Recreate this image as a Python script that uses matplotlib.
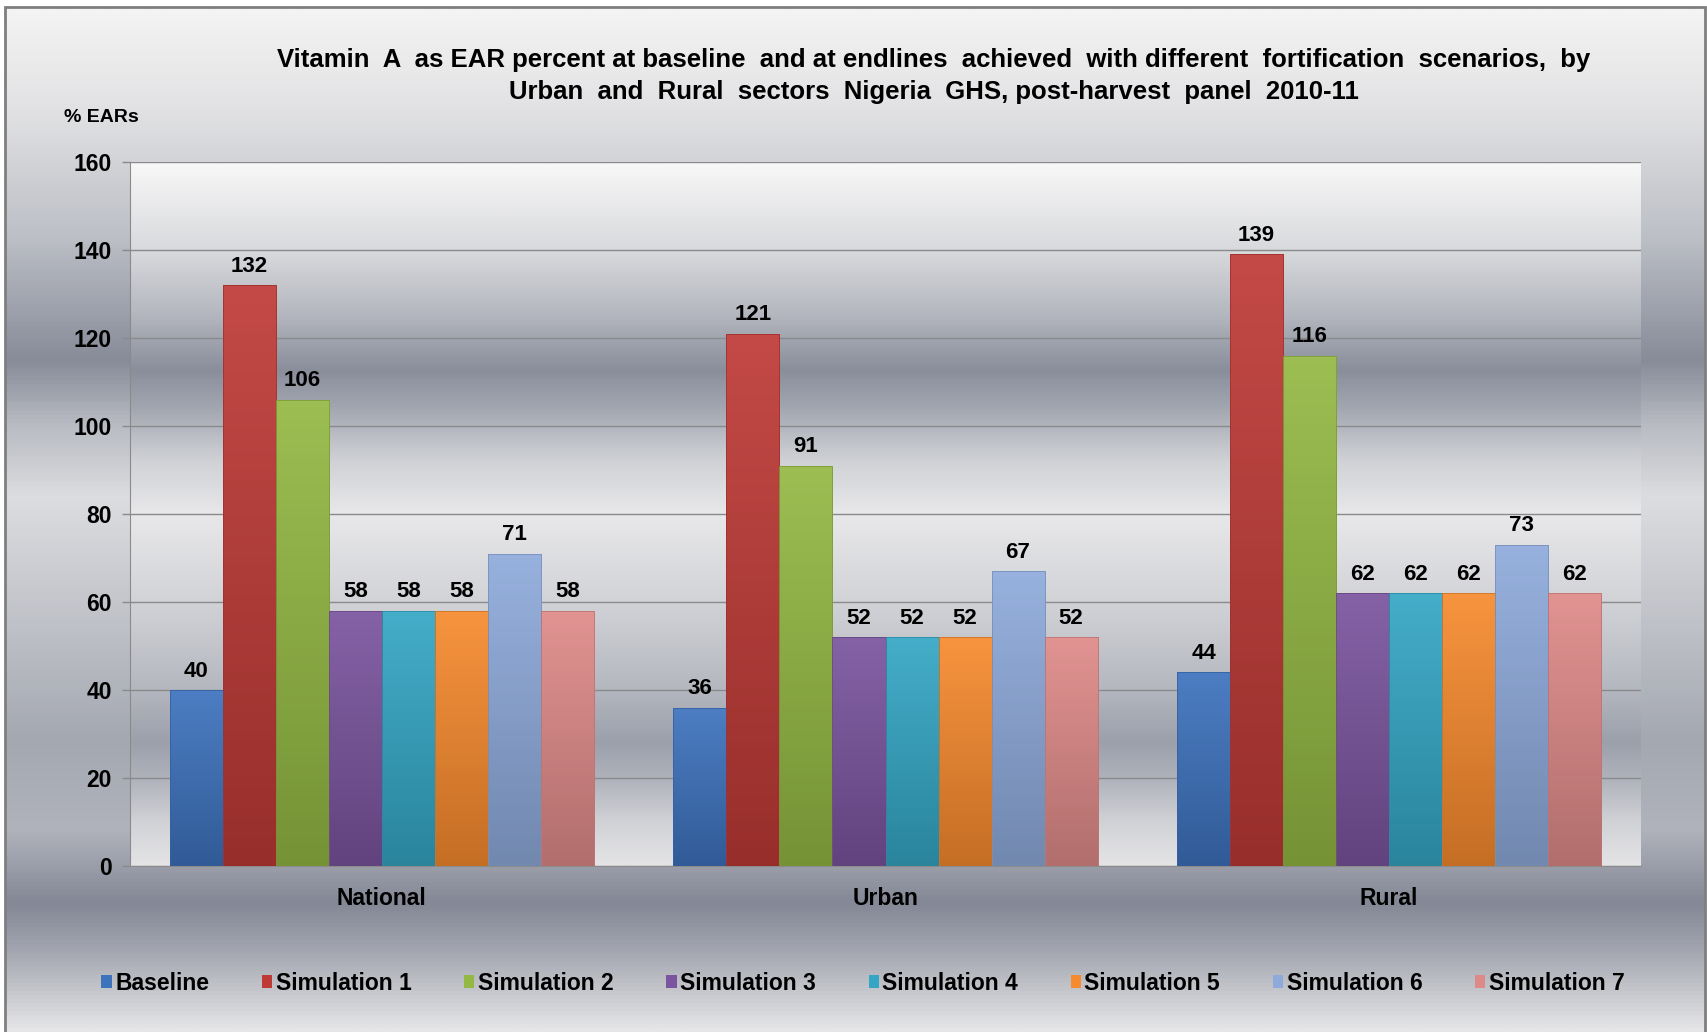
import numpy as np
import matplotlib
matplotlib.use('Agg')
import matplotlib.pyplot as plt
from matplotlib.colors import LinearSegmentedColormap, to_rgb
from matplotlib.patches import Rectangle

categories = ['National', 'Urban', 'Rural']
series_names = ['Baseline', 'Simulation 1', 'Simulation 2', 'Simulation 3',
                'Simulation 4', 'Simulation 5', 'Simulation 6', 'Simulation 7']
baseline = [40, 36, 44]
sim1 = [132, 121, 139]
sim2 = [106, 91, 116]
sim3 = [58, 52, 62]
sim4 = [58, 52, 62]
sim5 = [58, 52, 62]
sim6 = [71, 67, 73]
sim7 = [58, 52, 62]
series_values = [baseline, sim1, sim2, sim3, sim4, sim5, sim6, sim7]
series_colors = ['#3d72bd', '#be3a36', '#93b843', '#7a549e',
                 '#34a6c4', '#f68a2e', '#8eaadb', '#de8a88']
y_ticks = [0, 20, 40, 60, 80, 100, 120, 140, 160]

title = ('Vitamin  A  as EAR percent at baseline  and at endlines  achieved  with different  '
         'fortification  scenarios,  by\nUrban  and  Rural  sectors  Nigeria  GHS, post-harvest  panel  2010-11')

plt.rcParams['font.family'] = ['Liberation Sans', 'DejaVu Sans']
plt.rcParams['font.weight'] = 'bold'


def mix(c, other, t):
    c = np.array(to_rgb(c))
    o = np.array(to_rgb(other))
    return tuple(c * (1 - t) + o * t)


W, H = 1707, 1032
fig = plt.figure(figsize=(W / 100, H / 100), dpi=100, facecolor='white')

# metallic background of the whole chart
bg_stops = [(0, '#f4f4f4'), (100, '#e2e2e4'), (230, '#bcbfc6'), (355, '#888c99'),
            (420, '#b8bbc2'), (493, '#dcdde0'), (600, '#c4c6cc'), (740, '#a4a8b1'),
            (830, '#b0b3bb'), (905, '#848896'), (960, '#a8abb4'), (1032, '#e6e6e8')]
bg_cmap = LinearSegmentedColormap.from_list('bg', [(p / H, c) for p, c in bg_stops])
bg = fig.add_axes([0.003, 0, 0.996, 0.993], zorder=-2)
bg.imshow(np.linspace(0, 1, 500).reshape(-1, 1), cmap=bg_cmap, aspect='auto',
          extent=[0, 1, 0, 1], origin='upper')
bg.set_axis_off()
fig.patches.append(Rectangle((0.003, -0.05), 0.9958, 1.043, transform=fig.transFigure,
                             fill=False, edgecolor='#7f7f7f', lw=2, zorder=10))

ax = fig.add_axes([130 / W, 1 - 866 / H, (1641 - 130) / W, (866 - 162) / H])
ax.set_facecolor('none')

# plot area gradient
pa_stops = [(0, '#e4e4e6'), (10, '#d0d1d5'), (20, '#aeb1ba'), (28, '#9ca0ab'),
            (40, '#b4b7bf'), (60, '#d2d3d7'), (80, '#e8e8ea'), (92, '#d0d2d6'),
            (105, '#a0a4ae'), (113, '#8a8e9b'), (125, '#b2b5bd'), (140, '#d8d9dc'),
            (150, '#e8e8ea'), (160, '#f8f8f8')]
pa_cmap = LinearSegmentedColormap.from_list('pa', [(v / 160, c) for v, c in pa_stops])
ax.imshow(np.linspace(0, 1, 500).reshape(-1, 1), cmap=pa_cmap, aspect='auto',
          extent=[-0.5, 2.5, 0, 160], origin='lower', zorder=0)

n = len(series_names)
width = 1 / (n + 1.5)
x = np.arange(len(categories))
ramp = np.linspace(0, 1, 60).reshape(-1, 1, 1)
legend_handles = []
for k, (name, vals, col) in enumerate(zip(series_names, series_values, series_colors)):
    pos = x + (k - (n - 1) / 2) * width
    bars = ax.bar(pos, vals, width, color=col, edgecolor=mix(col, 'black', 0.15),
                  lw=0.6, zorder=3)
    top = np.array(mix(col, 'white', 0.08))
    bot = np.array(mix(col, 'black', 0.2))
    img = top * (1 - ramp) + bot * ramp
    for r in bars:
        im = ax.imshow(img, extent=[r.get_x(), r.get_x() + r.get_width(), 0, r.get_height()],
                       aspect='auto', origin='upper', zorder=2.9)
        im.set_clip_path(r)
        r.set_facecolor('none')
    ax.bar_label(bars, padding=6, fontsize=16, fontweight='bold')
    legend_handles.append(Rectangle((0, 0), 1, 1, facecolor=col, edgecolor='none'))

ax.set_xlim(-0.5, 2.5)
ax.set_ylim(0, 160)
ax.set_yticks(y_ticks)
ax.set_xticks(x)
ax.set_xticklabels(categories)
ax.tick_params(axis='y', length=6, width=1, color='#8a8a8a', pad=7, labelsize=16.5)
ax.tick_params(axis='x', length=0, pad=15, labelsize=16.5)
ax.yaxis.grid(True, color='#8a8a8a', lw=1)
ax.set_axisbelow(True)
for s in ['top', 'right']:
    ax.spines[s].set_visible(False)
for s in ['left', 'bottom']:
    ax.spines[s].set_color('#8a8a8a')

fig.text(934 / W, 1 - 76 / H, title, ha='center', va='center', fontsize=18.5,
         fontweight='bold', linespacing=1.4)
fig.text(101 / W, 1 - 117 / H, '% EARs', ha='center', va='center', fontsize=14,
         fontweight='bold')

fig.legend(legend_handles, series_names, loc='center', bbox_to_anchor=(863 / W, 1 - 983 / H),
           ncol=8, frameon=False, fontsize=16.5, handlelength=0.45, handleheight=0.5,
           handletextpad=0.15, columnspacing=2.3)

fig.savefig('out.png', dpi=100, facecolor='white')
